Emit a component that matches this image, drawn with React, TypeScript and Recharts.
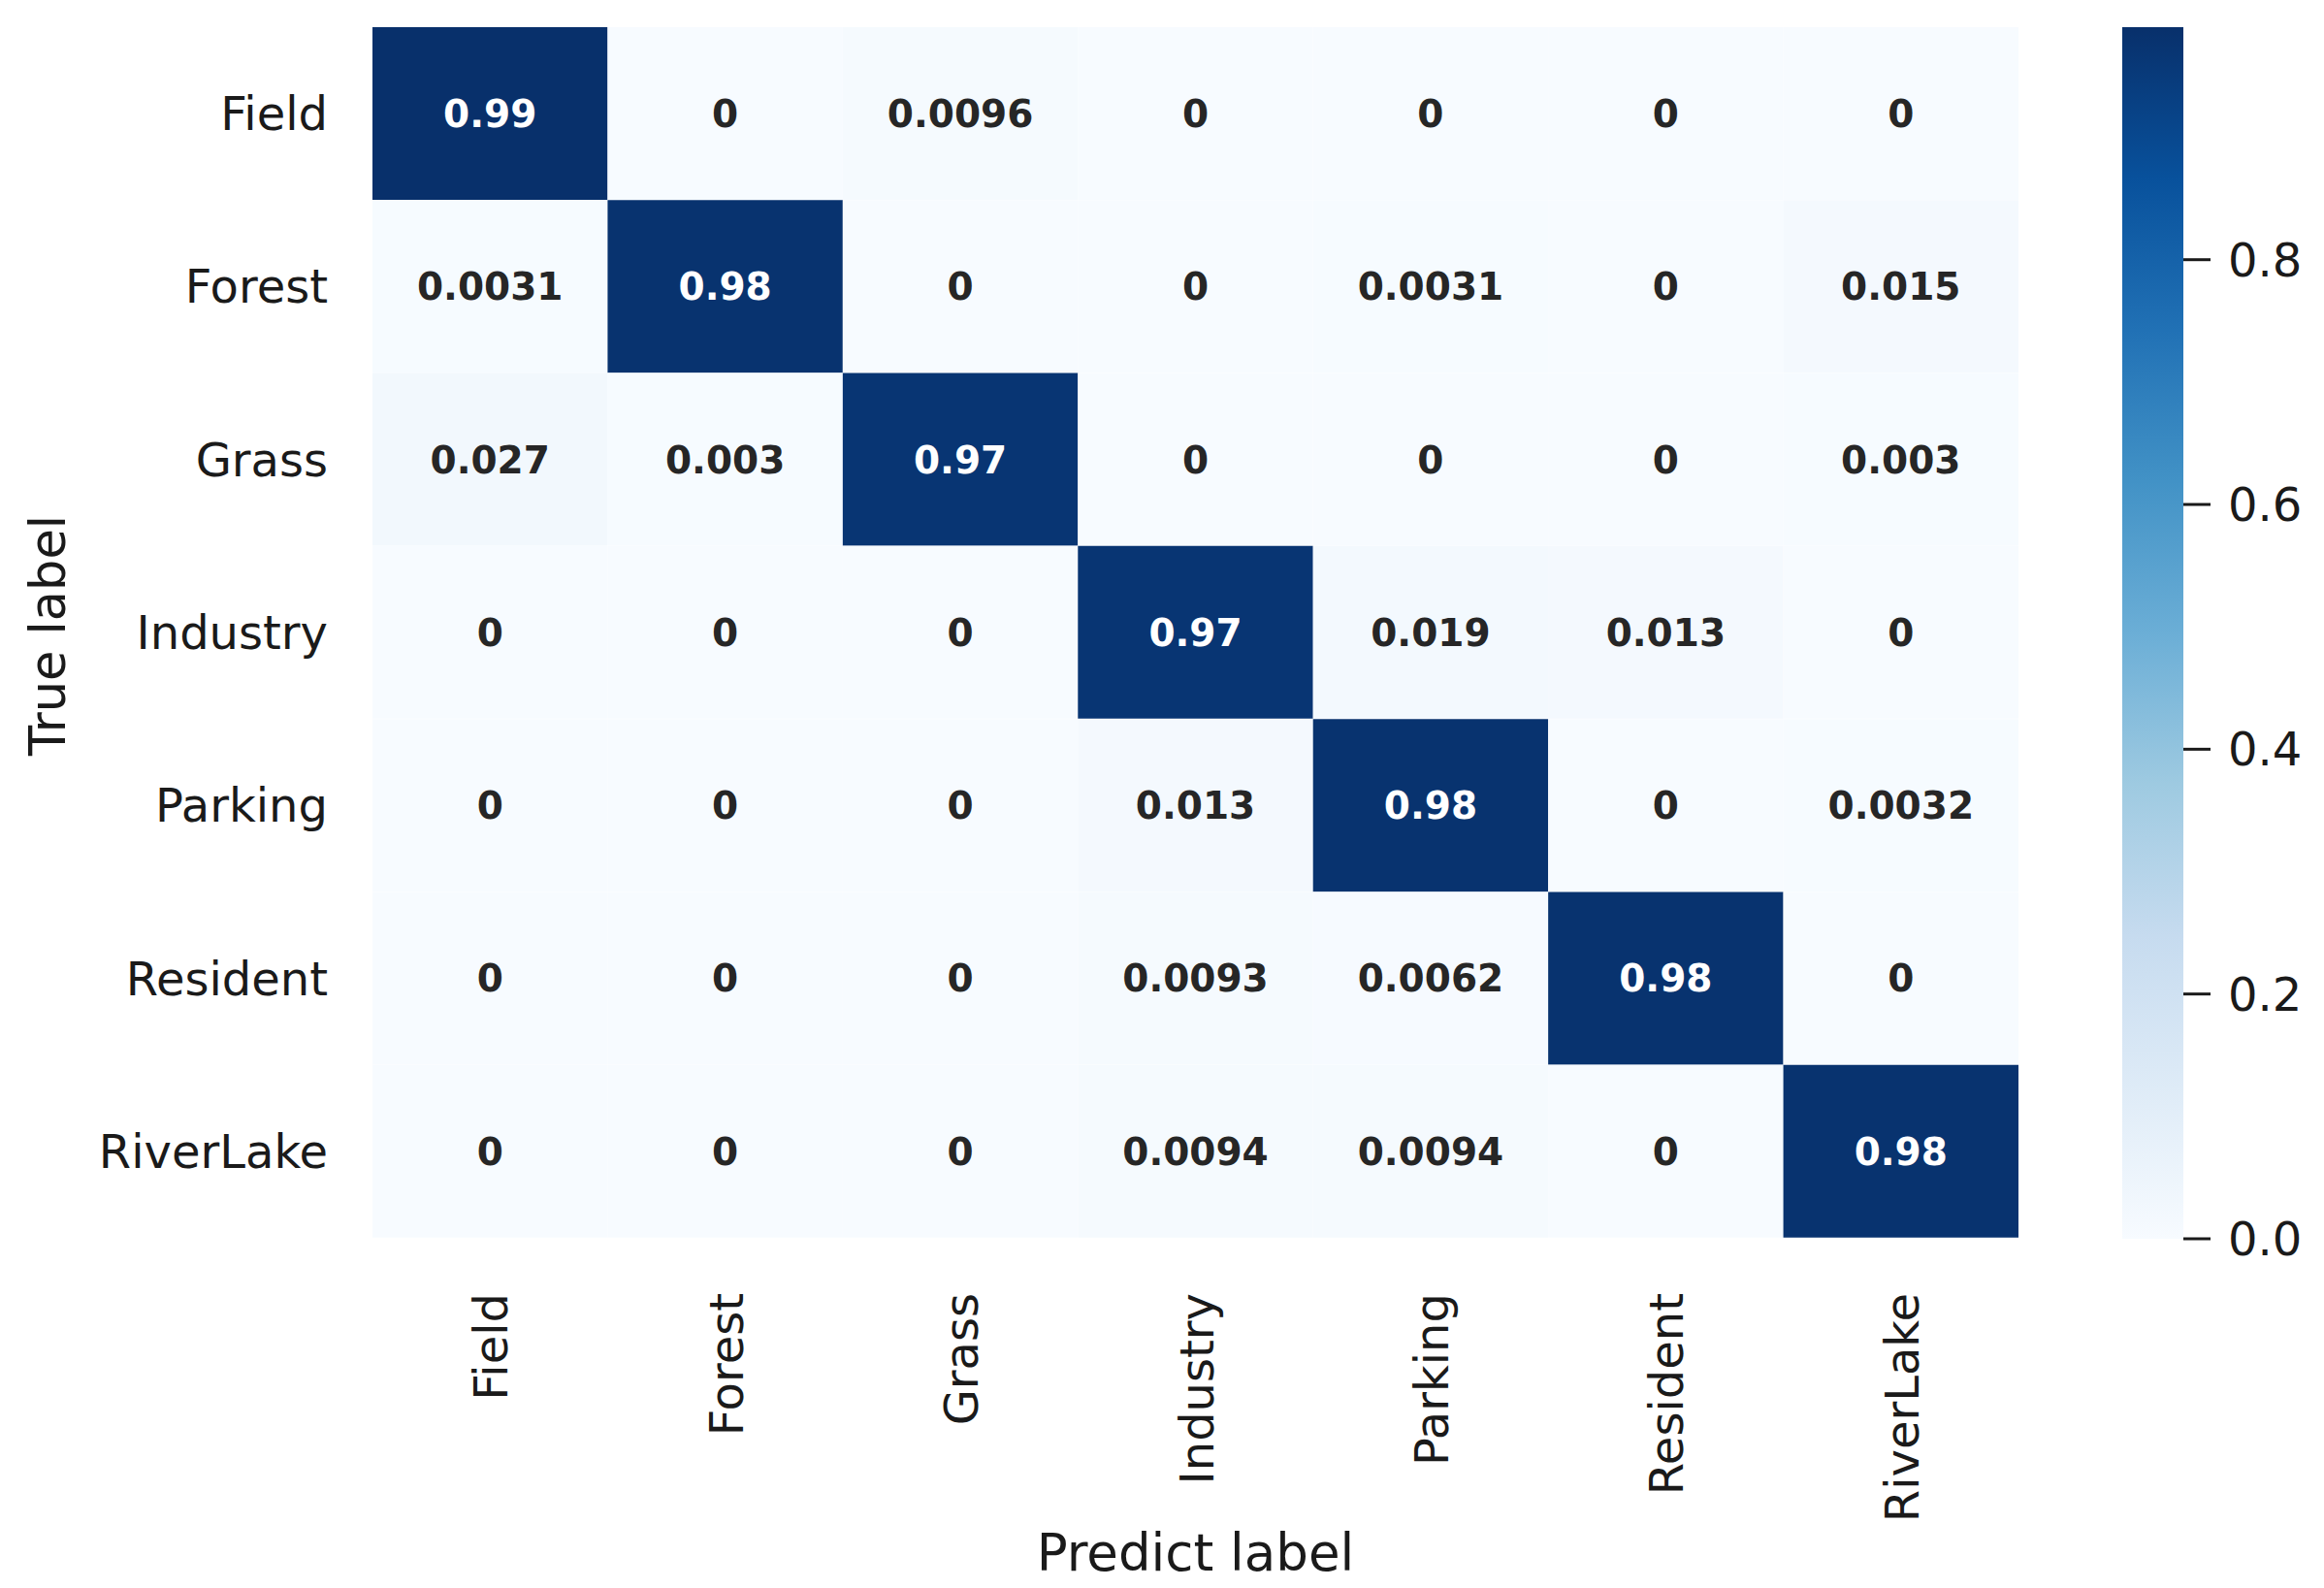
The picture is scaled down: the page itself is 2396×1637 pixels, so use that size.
import React from 'react';
import { BarChart, Bar, XAxis, YAxis, Cell, LabelList, Label } from 'recharts';

/* Matriz de confusão (normalizada) — 7 classes de cobertura do solo */
const classes = ['Field', 'Forest', 'Grass', 'Industry', 'Parking', 'Resident', 'RiverLake'];

const field = [0.99, 0, 0.0096, 0, 0, 0, 0];
const forest = [0.0031, 0.98, 0, 0, 0.0031, 0, 0.015];
const grass = [0.027, 0.003, 0.97, 0, 0, 0, 0.003];
const industry = [0, 0, 0, 0.97, 0.019, 0.013, 0];
const parking = [0, 0, 0, 0.013, 0.98, 0, 0.0032];
const resident = [0, 0, 0, 0.0093, 0.0062, 0.98, 0];
const riverLake = [0, 0, 0, 0.0094, 0.0094, 0, 0.98];

const matrix = [field, forest, grass, industry, parking, resident, riverLake];
const colTicks = [0.5, 1.5, 2.5, 3.5, 4.5, 5.5, 6.5];
const cbTicks = [0, 0.2, 0.4, 0.6, 0.8];
const vmax = Math.max(...matrix.flat());

const FONT = 'DejaVu Sans';
const INK = '#1a1a1a';

/* colormap Blues do matplotlib */
const BLUES = ['#f7fbff', '#deebf7', '#c6dbef', '#9ecae1', '#6baed6', '#4292c6', '#2171b5', '#08519c', '#08306b'];
function hex(c: string) {
  return [1, 3, 5].map((i) => parseInt(c.slice(i, i + 2), 16));
}
function blues(t: number): string {
  const p = Math.max(0, Math.min(1, t)) * (BLUES.length - 1);
  const i = Math.min(Math.floor(p), BLUES.length - 2);
  const f = p - i;
  const a = hex(BLUES[i]);
  const b = hex(BLUES[i + 1]);
  const rgb = a.map((v, k) => Math.round(v + (b[k] - v) * f));
  return `rgb(${rgb.join(',')})`;
}

const rows = classes.map((name, i) => {
  const r: Record<string, any> = { name };
  matrix[i].forEach((v, j) => { r['c' + j] = v; });
  return r;
});

function XTick({ x, y, payload }: any) {
  return (
    <text x={x} y={y} dy={18} transform={`rotate(-90, ${x}, ${y})`} textAnchor="end"
          fontFamily={FONT} fontSize={48} fill={INK}>
      {classes[Math.floor(payload.value)]}
    </text>
  );
}

function YTick({ x, y, payload }: any) {
  return (
    <text x={x} y={y} dy={17} textAnchor="end" fontFamily={FONT} fontSize={48} fill={INK}>
      {payload.value}
    </text>
  );
}

function CellText(props: any) {
  const { x, y, width, height, value } = props;
  const dark = value / vmax > 0.5;
  return (
    <text x={x + width / 2} y={y + height / 2} dy={14} textAnchor="middle"
          fontFamily={FONT} fontWeight="bold" fontSize={39} fill={dark ? '#ffffff' : '#262626'}>
      {String(value)}
    </text>
  );
}

export default function App() {
  return (
    <div style={{ position: 'absolute', left: 0, top: 0, width: 2396, height: 1637, background: '#fff', fontFamily: FONT }}>
      <div style={{ position: 'absolute', left: 0, top: 0 }}>
        <BarChart width={2081} height={1637} data={rows} layout="vertical"
                  margin={{ top: 28, right: 0, bottom: 0, left: 0 }} barCategoryGap={0} barGap={0}>
          <XAxis type="number" domain={[0, 7]} ticks={colTicks} height={361} axisLine={false}
                 tickLine={false} tickSize={0} tickMargin={57} tick={<XTick />} interval={0}>
            <Label content={({ viewBox }: any) => (
              <text x={viewBox.x + viewBox.width / 2} y={viewBox.y + 343} textAnchor="middle"
                    fontFamily={FONT} fontSize={53} fill={INK}>Predict label</text>
            )} />
          </XAxis>
          <YAxis type="category" dataKey="name" width={384} axisLine={false}
                 tickLine={false} tickSize={0} tickMargin={46} tick={<YTick />} interval={0}>
            <Label content={({ viewBox }: any) => {
              const cx = viewBox.x + 67;
              const cy = viewBox.y + viewBox.height / 2 + 3;
              return (
                <text x={cx} y={cy} transform={`rotate(-90, ${cx}, ${cy})`} textAnchor="middle"
                      fontFamily={FONT} fontSize={51} fill={INK}>True label</text>
              );
            }} />
          </YAxis>
          {classes.map((_, j) => (
            <Bar key={j} dataKey={() => 1} stackId="m" isAnimationActive={false}>
              {rows.map((_, i) => (
                <Cell key={i} fill={blues(matrix[i][j] / vmax)} />
              ))}
              <LabelList dataKey={'c' + j} content={<CellText />} />
            </Bar>
          ))}
        </BarChart>
      </div>

      <div style={{ position: 'absolute', left: 2188, top: 0 }}>
        <BarChart width={208} height={1637} data={[{ name: 'cb', v: vmax }]}
                  margin={{ top: 28, right: 0, bottom: 360, left: 0 }} barCategoryGap={0}>
          <defs>
            <linearGradient id="cbGrad" x1="0" y1="0" x2="0" y2="1">
              {BLUES.slice().reverse().map((c, k) => (
                <stop key={k} offset={`${(k / (BLUES.length - 1)) * 100}%`} stopColor={c} />
              ))}
            </linearGradient>
          </defs>
          <XAxis dataKey="name" hide />
          <YAxis orientation="right" type="number" domain={[0, vmax]} ticks={cbTicks} width={145}
                 axisLine={false} tickSize={28} tickMargin={18}
                 tickLine={{ stroke: INK, strokeWidth: 3 }}
                 tick={{ fontSize: 48, fontFamily: FONT, fill: INK }}
                 tickFormatter={(v: number) => v.toFixed(1)} />
          <Bar dataKey="v" fill="url(#cbGrad)" isAnimationActive={false} />
        </BarChart>
      </div>
    </div>
  );
}
